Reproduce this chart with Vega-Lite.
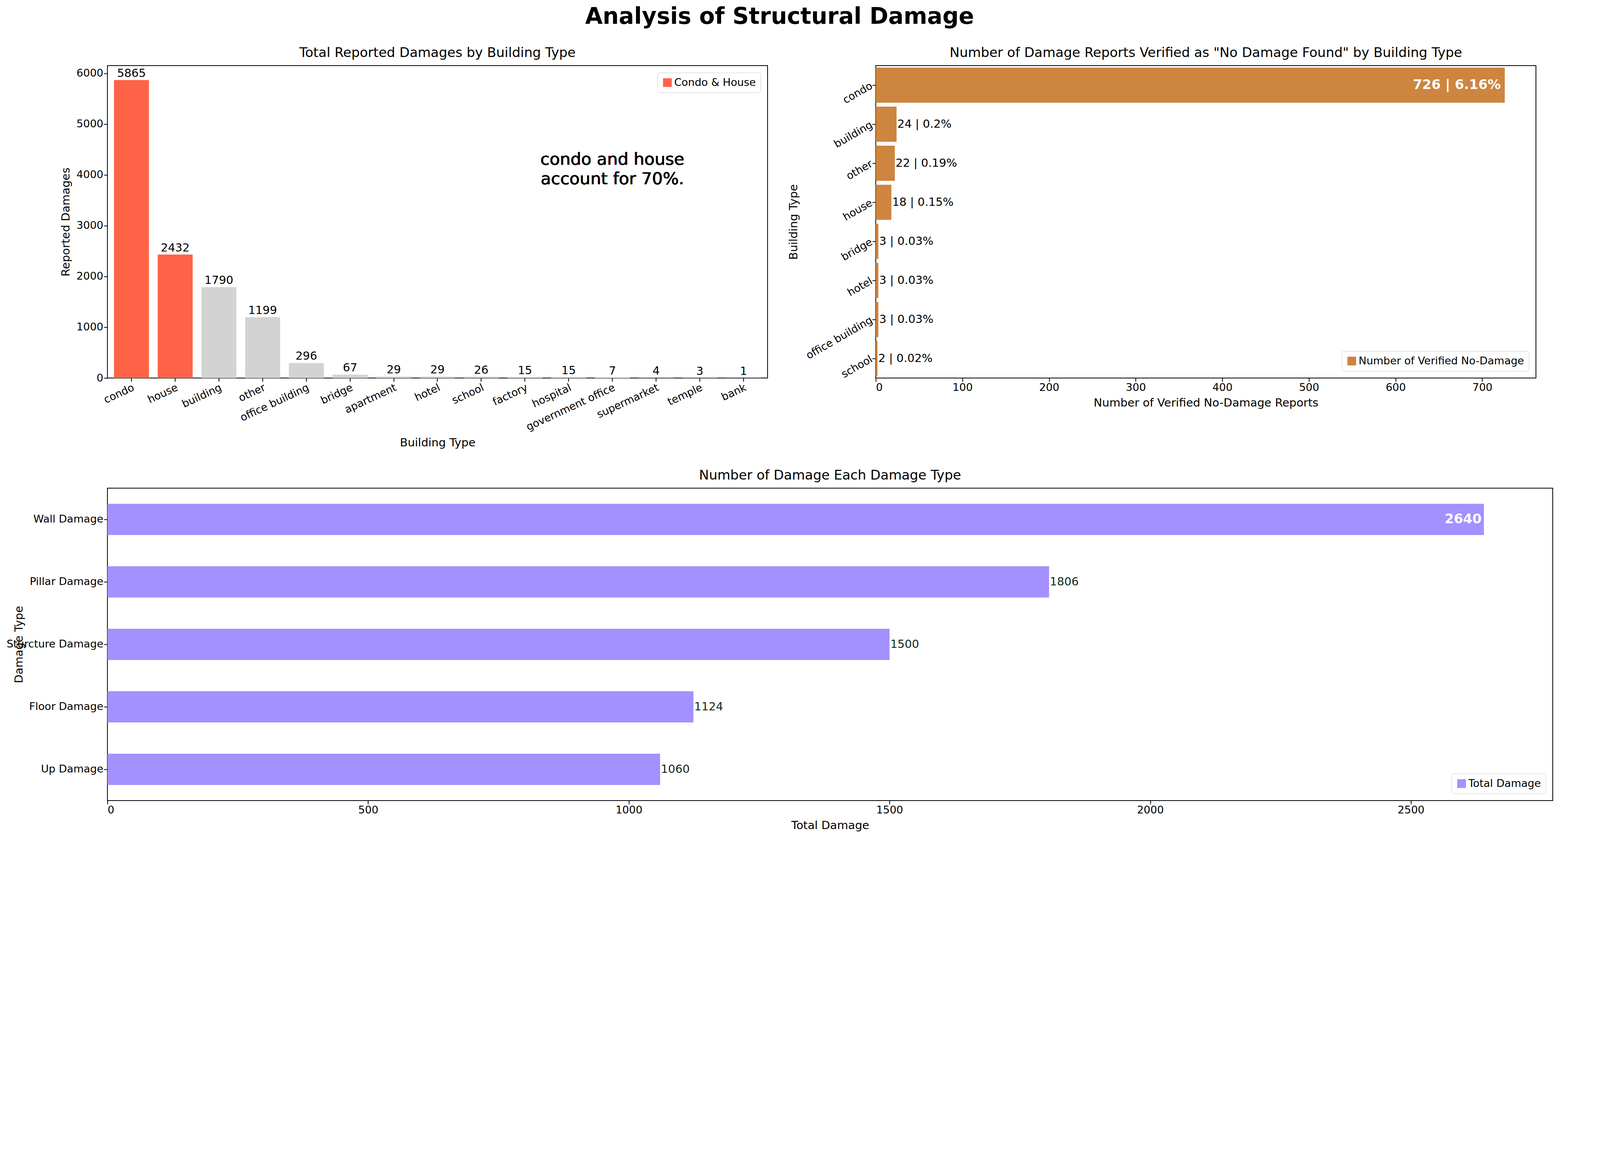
{
  "$schema": "https://vega.github.io/schema/vega-lite/v6.json",
  "background": "white",
  "padding": {"left": 15, "top": 15, "right": 15, "bottom": 8},
  "title": {"text": "Analysis of Structural Damage", "fontSize": 58, "fontWeight": "bold", "anchor": "middle", "offset": 45},
  "datasets": {
    "buildings": [
      {"type": "condo", "damages": 5865, "group": "Condo & House"},
      {"type": "house", "damages": 2432, "group": "Condo & House"},
      {"type": "building", "damages": 1790, "group": "Other"},
      {"type": "other", "damages": 1199, "group": "Other"},
      {"type": "office building", "damages": 296, "group": "Other"},
      {"type": "bridge", "damages": 67, "group": "Other"},
      {"type": "apartment", "damages": 29, "group": "Other"},
      {"type": "hotel", "damages": 29, "group": "Other"},
      {"type": "school", "damages": 26, "group": "Other"},
      {"type": "factory", "damages": 15, "group": "Other"},
      {"type": "hospital", "damages": 15, "group": "Other"},
      {"type": "government office", "damages": 7, "group": "Other"},
      {"type": "supermarket", "damages": 4, "group": "Other"},
      {"type": "temple", "damages": 3, "group": "Other"},
      {"type": "bank", "damages": 1, "group": "Other"}
    ],
    "nodamage": [
      {"type": "condo", "count": 726, "label": "726 | 6.16%", "inside": true},
      {"type": "building", "count": 24, "label": "24 | 0.2%", "inside": false},
      {"type": "other", "count": 22, "label": "22 | 0.19%", "inside": false},
      {"type": "house", "count": 18, "label": "18 | 0.15%", "inside": false},
      {"type": "bridge", "count": 3, "label": "3 | 0.03%", "inside": false},
      {"type": "hotel", "count": 3, "label": "3 | 0.03%", "inside": false},
      {"type": "office building", "count": 3, "label": "3 | 0.03%", "inside": false},
      {"type": "school", "count": 2, "label": "2 | 0.02%", "inside": false}
    ],
    "damagetypes": [
      {"kind": "Wall Damage", "total": 2640, "inside": true},
      {"kind": "Pillar Damage", "total": 1806, "inside": false},
      {"kind": "Sturcture Damage", "total": 1500, "inside": false},
      {"kind": "Floor Damage", "total": 1124, "inside": false},
      {"kind": "Up Damage", "total": 1060, "inside": false}
    ]
  },
  "vconcat": [
    {
      "hconcat": [
        {
          "width": 1690,
          "height": 800,
          "title": "Total Reported Damages by Building Type",
          "data": {"name": "buildings"},
          "encoding": {
            "x": {"field": "type", "type": "nominal", "sort": null, "title": "Building Type",
              "scale": {"paddingInner": 0.2, "paddingOuter": 0.15},
              "axis": {"labelAngle": -25, "labelAlign": "right", "labelBaseline": "top"}},
            "y": {"field": "damages", "type": "quantitative", "title": "Reported Damages",
              "scale": {"domain": [0, 6150], "nice": false},
              "axis": {"values": [0, 1000, 2000, 3000, 4000, 5000, 6000], "format": "d"}}
          },
          "layer": [
            {
              "mark": "bar",
              "encoding": {
                "color": {"field": "group", "type": "nominal",
                  "scale": {"domain": ["Condo & House", "Other"], "range": ["#FF6347", "#D3D3D3"]},
                  "legend": {"values": ["Condo & House"], "title": null, "orient": "top-right"}}
              }
            },
            {
              "mark": {"type": "text", "baseline": "bottom", "dy": -2, "fontSize": 29},
              "encoding": {"text": {"field": "damages", "type": "quantitative", "format": "d"}}
            },
            {
              "mark": {"type": "text", "fontSize": 43, "align": "center", "lineHeight": 50,
                "text": ["condo and house", "  account for 70%."]},
              "encoding": {
                "x": {"datum": "government office"},
                "y": {"datum": 4300}
              }
            }
          ]
        },
        {
          "width": 1690,
          "height": 800,
          "title": "Number of Damage Reports Verified as \"No Damage Found\" by Building Type",
          "data": {"name": "nodamage"},
          "encoding": {
            "y": {"field": "type", "type": "nominal", "sort": null, "title": "Building Type",
              "scale": {"paddingInner": 0.1, "paddingOuter": 0.05},
              "axis": {"labelAngle": -30}},
            "x": {"field": "count", "type": "quantitative", "title": "Number of Verified No-Damage Reports",
              "scale": {"domain": [0, 762], "nice": false},
              "axis": {"values": [0, 100, 200, 300, 400, 500, 600, 700]}}
          },
          "layer": [
            {
              "mark": "bar",
              "encoding": {
                "color": {"datum": "Number of Verified No-Damage", "type": "nominal",
                  "scale": {"range": ["#CD853F"]},
                  "legend": {"title": null, "orient": "bottom-right"}}
              }
            },
            {
              "transform": [{"filter": "datum.inside"}],
              "mark": {"type": "text", "align": "right", "dx": -10, "fontSize": 34, "fontWeight": "bold", "color": "white"},
              "encoding": {"text": {"field": "label"}}
            },
            {
              "transform": [{"filter": "!datum.inside"}],
              "mark": {"type": "text", "align": "left", "dx": 2, "fontSize": 29},
              "encoding": {"text": {"field": "label"}}
            }
          ]
        }
      ],
      "spacing": 50,
      "resolve": {"scale": {"color": "independent"}}
    },
    {
      "width": 3700,
      "height": 800,
      "title": "Number of Damage Each Damage Type",
      "data": {"name": "damagetypes"},
      "encoding": {
        "y": {"field": "kind", "type": "nominal", "sort": null, "title": "Damage Type",
          "scale": {"paddingInner": 0.5, "paddingOuter": 0.25}},
        "x": {"field": "total", "type": "quantitative", "title": "Total Damage",
          "scale": {"domain": [0, 2772], "nice": false},
          "axis": {"values": [0, 500, 1000, 1500, 2000, 2500], "format": "d"}}
      },
      "layer": [
        {
          "mark": "bar",
          "encoding": {
            "color": {"datum": "Total Damage", "type": "nominal",
              "scale": {"range": ["#A391FF"]},
              "legend": {"title": null, "orient": "bottom-right"}}
          }
        },
        {
          "transform": [{"filter": "datum.inside"}],
          "mark": {"type": "text", "align": "right", "dx": -6, "fontSize": 34, "fontWeight": "bold", "color": "white"},
          "encoding": {"text": {"field": "total", "type": "quantitative", "format": "d"}}
        },
        {
          "transform": [{"filter": "!datum.inside"}],
          "mark": {"type": "text", "align": "left", "dx": 2, "fontSize": 29, "color": "#0B2A1A"},
          "encoding": {"text": {"field": "total", "type": "quantitative", "format": "d"}}
        }
      ]
    }
  ],
  "spacing": 50,
  "resolve": {"scale": {"color": "independent"}},
  "config": {
    "font": "DejaVu Sans",
    "view": {"stroke": "black", "strokeWidth": 2},
    "axis": {"grid": false, "labelFontSize": 27, "titleFontSize": 29, "titleFontWeight": "normal", "labelLimit": 0,
      "tickSize": 9, "tickWidth": 2, "domain": false, "labelColor": "black", "titleColor": "black", "tickColor": "black", "titlePadding": 12},
    "title": {"fontSize": 34, "fontWeight": "normal", "offset": 15},
    "legend": {"labelFontSize": 27, "labelLimit": 0, "symbolType": "square", "symbolSize": 500, "symbolStrokeWidth": 0,
      "strokeColor": "#cccccc", "padding": 12, "cornerRadius": 5, "fillColor": "white", "symbolOpacity": 1},
    "bar": {"opacity": 1}
  }
}
